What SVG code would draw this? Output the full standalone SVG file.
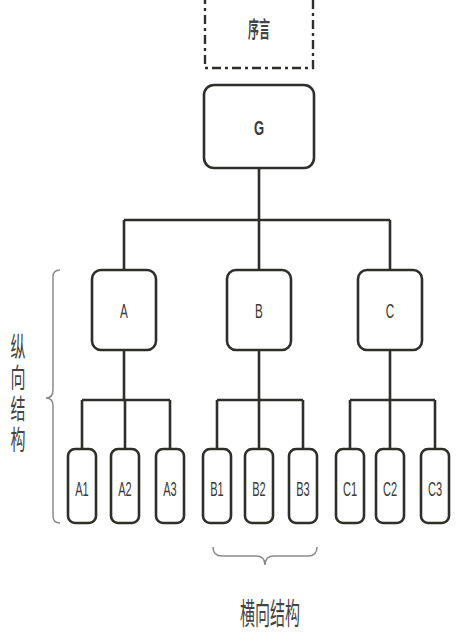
<svg xmlns="http://www.w3.org/2000/svg" width="460" height="636" viewBox="0 0 460 636">
<style>
.box{fill:#fff;stroke:#2e2e2a;stroke-width:2.6}
.con{fill:none;stroke:#2e2e2a;stroke-width:2.6}
.brace{fill:none;stroke:#8a8a8a;stroke-width:1.5}
.lbl{font-family:"Liberation Sans",Arial,sans-serif;font-size:13px;fill:#3a3a3a;text-anchor:middle}
.cjk{font-family:"Noto Sans CJK SC","Noto Sans",sans-serif;fill:#444;text-anchor:middle}
</style>
<rect width="460" height="636" fill="#fff"/>
<g id="preface">
<rect x="205" y="-12" width="108" height="80" fill="#fff" stroke="#2e2e2a" stroke-width="2.4" stroke-dasharray="9,4,3,4"/>
<text class="cjk" transform="translate(259,37) scale(1,2)" font-size="11" font-weight="bold" fill="#333">序言</text>
</g>
<g id="connectors">
<path class="con" d="M259,168 V220 M124,220 H390 M124,220 V270 M259,220 V270 M390,220 V270"/>
<path class="con" d="M124,350 V400 M82,400 H170 M82,400 V449 M125,400 V449 M170,400 V449"/>
<path class="con" d="M259,350 V400 M217,400 H303 M217,400 V449 M259,400 V449 M303,400 V449"/>
<path class="con" d="M390,350 V400 M350,400 H435 M350,400 V449 M390,400 V449 M435,400 V449"/>
</g>
<g id="G"><rect class="box" x="204" y="85" width="110" height="83" rx="10"/><text class="lbl" transform="translate(259,135) scale(1,1.6)" font-weight="bold">G</text></g>
<g id="A"><rect class="box" x="92" y="270" width="64" height="80" rx="9"/><text class="lbl" transform="translate(124,318) scale(0.9,1.5)">A</text></g>
<g id="B"><rect class="box" x="227" y="270" width="64" height="80" rx="9"/><text class="lbl" transform="translate(259,318) scale(0.9,1.5)">B</text></g>
<g id="C"><rect class="box" x="358" y="270" width="64" height="80" rx="9"/><text class="lbl" transform="translate(390,318) scale(0.9,1.5)">C</text></g>
<g id="A1"><rect class="box" x="68" y="449" width="28" height="74" rx="7"/><text class="lbl" transform="translate(82,496) scale(0.85,1.5)">A1</text></g>
<g id="A2"><rect class="box" x="111" y="449" width="28" height="74" rx="7"/><text class="lbl" transform="translate(125,496) scale(0.85,1.5)">A2</text></g>
<g id="A3"><rect class="box" x="156" y="449" width="28" height="74" rx="7"/><text class="lbl" transform="translate(170,496) scale(0.85,1.5)">A3</text></g>
<g id="B1"><rect class="box" x="203" y="449" width="28" height="74" rx="7"/><text class="lbl" transform="translate(217,496) scale(0.85,1.5)">B1</text></g>
<g id="B2"><rect class="box" x="245" y="449" width="28" height="74" rx="7"/><text class="lbl" transform="translate(259,496) scale(0.85,1.5)">B2</text></g>
<g id="B3"><rect class="box" x="289" y="449" width="28" height="74" rx="7"/><text class="lbl" transform="translate(303,496) scale(0.85,1.5)">B3</text></g>
<g id="C1"><rect class="box" x="336" y="449" width="28" height="74" rx="7"/><text class="lbl" transform="translate(350,496) scale(0.85,1.5)">C1</text></g>
<g id="C2"><rect class="box" x="376" y="449" width="28" height="74" rx="7"/><text class="lbl" transform="translate(390,496) scale(0.85,1.5)">C2</text></g>
<g id="C3"><rect class="box" x="421" y="449" width="28" height="74" rx="7"/><text class="lbl" transform="translate(435,496) scale(0.85,1.5)">C3</text></g>
<g id="vertical-brace">
<path class="brace" d="M60,270 Q53,270 53,277 L53,390 Q53,398 46,398 Q53,398 53,406 L53,516 Q53,523 60,523"/>
<text class="cjk" font-size="15" letter-spacing="1.8" style="writing-mode:vertical-rl" transform="translate(18,395) scale(1,1.85)">纵向结构</text>
</g>
<g id="horizontal-brace">
<path class="brace" d="M213,547 Q213,556 222,556 L256,556 Q265,556 265,565 Q265,556 274,556 L308,556 Q317,556 317,547"/>
<text class="cjk" font-size="15" transform="translate(270,624) scale(1,2)">横向结构</text>
</g>
</svg>
